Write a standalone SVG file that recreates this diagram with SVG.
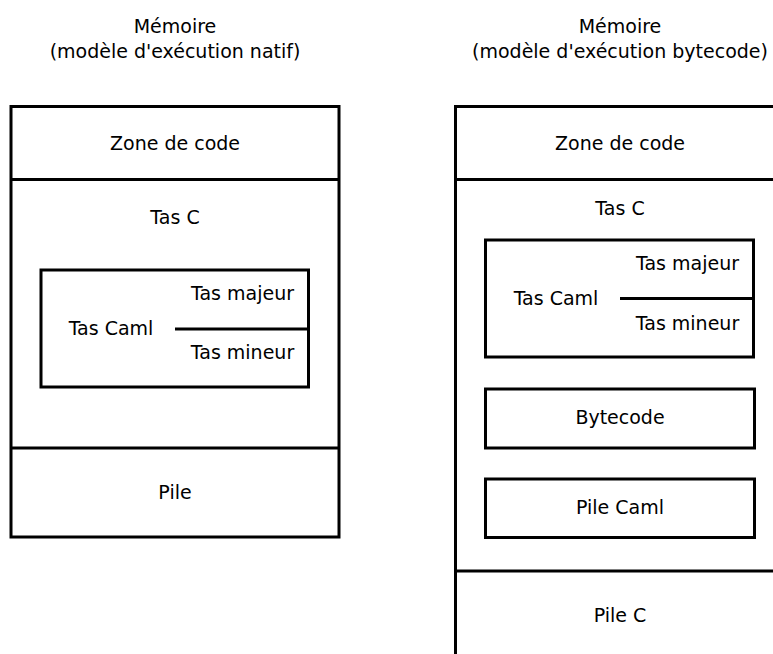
<svg xmlns="http://www.w3.org/2000/svg" width="773" height="654" viewBox="0 0 773 654">
  <style>
    .box { fill: none; stroke: #000; stroke-width: 3; }
    .sep { fill: none; stroke: #000; stroke-width: 3; }
    text { font-family: "DejaVu Sans", "Liberation Sans", sans-serif; font-size: 19px; fill: #000; }
    .c { text-anchor: middle; }
    .title { font-size: 19px; }
  </style>
  <rect width="773" height="654" fill="#fff"/>

  <!-- Native execution model -->
  <g id="native-title">
    <text class="c title" x="175" y="33">Mémoire</text>
    <text class="c title" x="175" y="58">(modèle d'exécution natif)</text>
  </g>
  <g id="native-memory">
    <rect class="box" x="11" y="106.5" width="328" height="430.5"/>
  </g>
  <g id="native-code">
    <text class="c" x="175" y="150">Zone de code</text>
  </g>
  <g id="native-cheap">
    <text class="c" x="175" y="224">Tas C</text>
  </g>
  <g id="native-camlheap">
    <rect class="box" x="41" y="270" width="267.5" height="117"/>
    <text class="c" x="111" y="335">Tas Caml</text>
    <text class="c" x="242.5" y="300">Tas majeur</text>
    <text class="c" x="242.5" y="359">Tas mineur</text>
  </g>
  <g id="native-stack">
    <text class="c" x="175" y="499">Pile</text>
  </g>

  <!-- Bytecode execution model -->
  <g id="bytecode-title">
    <text class="c title" x="620" y="33">Mémoire</text>
    <text class="c title" x="620" y="58">(modèle d'exécution bytecode)</text>
  </g>
  <g id="bytecode-memory">
    <path class="box" d="M773 106.5 H455.5 V654"/>
  </g>
  <g id="bytecode-code">
    <text class="c" x="620" y="150">Zone de code</text>
  </g>
  <g id="bytecode-cheap">
    <text class="c" x="620" y="215">Tas C</text>
  </g>
  <g id="bytecode-camlheap">
    <rect class="box" x="485.5" y="240" width="268" height="117"/>
    <text class="c" x="556" y="305">Tas Caml</text>
    <text class="c" x="687.5" y="269.5">Tas majeur</text>
    <text class="c" x="687.5" y="329.5">Tas mineur</text>
  </g>
  <g id="bytecode-interp">
    <rect class="box" x="485.5" y="389" width="269" height="59"/>
    <text class="c" x="620" y="424">Bytecode</text>
  </g>
  <g id="bytecode-camlstack">
    <rect class="box" x="485.5" y="479" width="269" height="58.5"/>
    <text class="c" x="620" y="513.5">Pile Caml</text>
  </g>
  <g id="bytecode-cstack">
    <text class="c" x="620" y="621.5">Pile C</text>
  </g>

  <!-- Dividing lines -->
  <g id="connectors">
    <line class="sep" x1="11" y1="179.5" x2="339" y2="179.5"/>
    <line class="sep" x1="11" y1="448" x2="339" y2="448"/>
    <line class="sep" x1="175" y1="329" x2="308.5" y2="329"/>
    <line class="sep" x1="455.5" y1="179.5" x2="773" y2="179.5"/>
    <line class="sep" x1="455.5" y1="571" x2="773" y2="571"/>
    <line class="sep" x1="620" y1="298.5" x2="753.5" y2="298.5"/>
  </g>
</svg>
